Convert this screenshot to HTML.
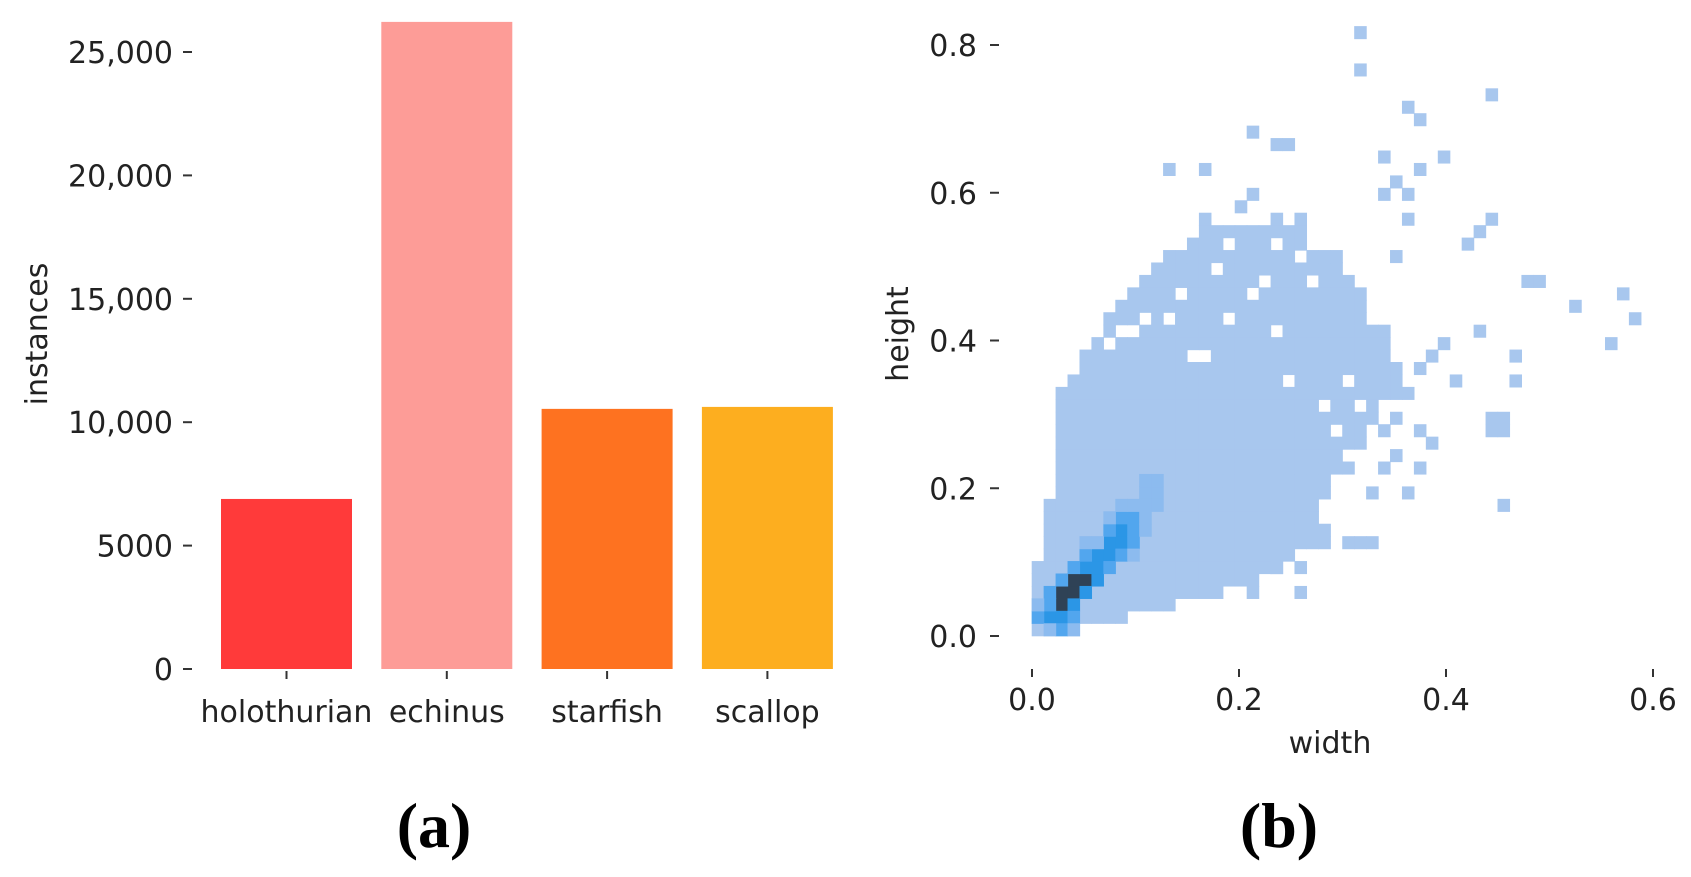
<!DOCTYPE html>
<html><head><meta charset="utf-8">
<style>
html,body{margin:0;padding:0;background:#fff;}
svg{display:block;}
text{font-family:"DejaVu Sans","Liberation Sans",sans-serif;fill:#222;}
.cap{font-family:"Liberation Serif",serif;font-weight:bold;fill:#000;}
</style></head>
<body>
<svg id="fig" width="1691" height="877" viewBox="0 0 1691 877">
  <g id="bar-chart"></g>
  <g id="heatmap"></g>
  <text class="cap" x="434" y="847" font-size="64" text-anchor="middle">(a)</text>
  <text class="cap" x="1279" y="847" font-size="64" text-anchor="middle">(b)</text>
</svg>
<script>
// ---- bar chart data ----
const categories = ["holothurian", "echinus", "starfish", "scallop"];
const instances = [6890, 26220, 10540, 10620];
const barColors = ["#ff3a3a", "#fd9c97", "#fe7220", "#fdae1f"];
const yTicksA = [0, 5000, 10000, 15000, 20000, 25000];
const yTickLabelsA = ["0", "5000", "10,000", "15,000", "20,000", "25,000"];

// ---- heatmap data (bin grid: column index along width, row index along height) ----
const binW = 0.01154;
const binH = 0.01684;
const blobRowStart = [0,0,0,0,0,0,1,1,1,1,1,2,2,2,2,2,2,2,2,2,3,4,4,5,6,6,7,8,9,10,11,13,14];
const blobRowEnd   = [3,7,11,15,18,20,21,24,24,23,23,24,24,26,26,27,27,28,28,30,30,30,29,29,29,27,27,27,26,25,25,22,22];
const holeCells = [[13,22],[14,22],[6,23],[7,24],[11,25],[16,25],[20,24],[12,27],[18,27],[19,28],[15,29],[22,30],[23,28],[8,24],[9,25],[21,20],[24,18],[25,16],[26,14],[25,12],[26,20],[27,18],[16,31],[20,31]];
const outlierCells = [[27,48],[27,45],[31,42],[32,41],[38,43],[18,40],[20,39],[21,39],[11,37],[14,37],[29,38],[32,37],[34,38],[30,36],[29,35],[31,35],[17,34],[18,35],[22,33],[20,33],[14,33],[31,33],[38,33],[37,32],[36,31],[30,30],[41,28],[42,28],[45,26],[49,27],[50,25],[48,23],[37,24],[34,23],[35,20],[40,22],[40,20],[38,16],[39,16],[38,17],[39,17],[39,10],[22,3],[18,3],[20,5],[22,5],[26,7],[27,7],[28,7],[28,11],[31,11],[32,13],[33,15],[32,16],[29,16],[30,17],[31,19],[32,21],[33,22],[29,13],[30,14]];
const coreCells = [
 [2,2,4],[2,3,4],[3,3,4],[3,4,4],[4,4,4],
 [1,1,3],[2,1,3],[3,2,3],[4,3,3],[4,5,3],[5,4,3],[5,5,3],[5,6,3],[6,6,3],[6,7,3],[7,7,3],[7,8,3],
 [0,1,2],[1,2,2],[1,3,2],[2,4,2],[3,5,2],[4,6,2],[6,5,2],[7,6,2],[8,7,2],[8,8,2],[6,8,2],[7,9,2],[8,9,2],[3,1,2],[2,0,2],
 [8,10,1],[9,11,1],[10,11,1],[9,12,1],[10,12,1],[7,10,1],[5,7,1],[4,7,1],[8,6,1],[9,8,1],[9,9,1],[9,10,1],[10,10,1],[6,9,1],[0,2,1],[1,0,1],[3,0,1]
];
const densityColors = ["#a8c7ee", "#8cbbef", "#52a6ee", "#2b96e6", "#2f4256"];
const xTicksB = [0, 0.2, 0.4, 0.6];
const yTicksB = [0, 0.2, 0.4, 0.6, 0.8];

const NS = "http://www.w3.org/2000/svg";
function mk(parent, tag, attrs, txt) {
  const el = document.createElementNS(NS, tag);
  for (const k in attrs) el.setAttribute(k, attrs[k]);
  if (txt !== undefined) el.textContent = txt;
  parent.appendChild(el);
  return el;
}

// ---- bar chart ----
(function(){
  const g = document.getElementById("bar-chart");
  const y0 = 669, pxPer = (669 - 52) / 25000;
  const yA = v => y0 - v * pxPer;
  const slot0 = 221, slotStep = 160.3, barW = 131;
  const xA = i => slot0 + i * slotStep;
  yTicksA.forEach((v, i) => {
    const t = mk(g, "line", {x1: 183, x2: 192, y1: yA(v), y2: yA(v), stroke: "#333", "stroke-width": 2});
    
    
    const l = mk(g, "text", {x: 173, y: yA(v) + 11, "font-size": 30, "text-anchor": "end"}, yTickLabelsA[i]);
    
    
  });
  categories.forEach((c, i) => {
    const r = mk(g, "rect", {x: xA(i), y: yA(instances[i]), width: barW, height: y0 - yA(instances[i]), fill: barColors[i]});
    
    
    const cx = xA(i) + barW / 2;
    const t = mk(g, "line", {x1: cx, x2: cx, y1: 671, y2: 679, stroke: "#333", "stroke-width": 2});
    
    
    const l = mk(g, "text", {x: cx, y: 722, "font-size": 30, "text-anchor": "middle"}, c);
    
    
  });
  const yl = mk(g, "text", {x: 0, y: 0, "font-size": 30, "text-anchor": "middle", transform: "translate(47,334) rotate(-90)"}, "instances");
  
  
})();

// ---- heatmap ----
(function(){
  const g = document.getElementById("heatmap");
  const x0 = 1032, xPer = (1653 - 1032) / 0.6;
  const y0 = 636, yPer = (636 - 45) / 0.8;
  const xB = v => x0 + v * xPer;
  const yB = v => y0 - v * yPer;
  const cw = binW * xPer, ch = binH * yPer;
  const holes = new Set(holeCells.map(c => c[0] + "," + c[1]));
  function cell(c, r, color, name) {
    const e = mk(g, "rect", {x: xB(c * binW) - 0.3, y: yB((r + 1) * binH) - 0.3, width: cw + 0.6, height: ch + 0.6, fill: color});
    
    
  }
  blobRowStart.forEach((s, r) => {
    for (let c = s; c <= blobRowEnd[r]; c++) {
      if (holes.has(c + "," + r)) continue;
      cell(c, r, densityColors[0], 'heatmap-cell');
    }
  });
  outlierCells.forEach(p => cell(p[0], p[1], densityColors[0], 'heatmap-outlier-cell'));
  coreCells.forEach(p => cell(p[0], p[1], densityColors[p[2]], 'heatmap-core-cell'));
  yTicksB.forEach(v => {
    const t = mk(g, "line", {x1: 990, x2: 999, y1: yB(v), y2: yB(v), stroke: "#333", "stroke-width": 2});
    
    
    const l = mk(g, "text", {x: 977, y: yB(v) + 11, "font-size": 30, "text-anchor": "end"}, v.toFixed(1));
    
    
  });
  xTicksB.forEach(v => {
    const t = mk(g, "line", {x1: xB(v), x2: xB(v), y1: 669, y2: 677, stroke: "#333", "stroke-width": 2});
    
    
    const l = mk(g, "text", {x: xB(v), y: 710, "font-size": 30, "text-anchor": "middle"}, v.toFixed(1));
    
    
  });
  const xl = mk(g, "text", {x: 1330, y: 753, "font-size": 30, "text-anchor": "middle"}, "width");
  
  
  const yl = mk(g, "text", {x: 0, y: 0, "font-size": 30, "text-anchor": "middle", transform: "translate(908,334) rotate(-90)"}, "height");
  
  
})();
</script>
</body></html>
